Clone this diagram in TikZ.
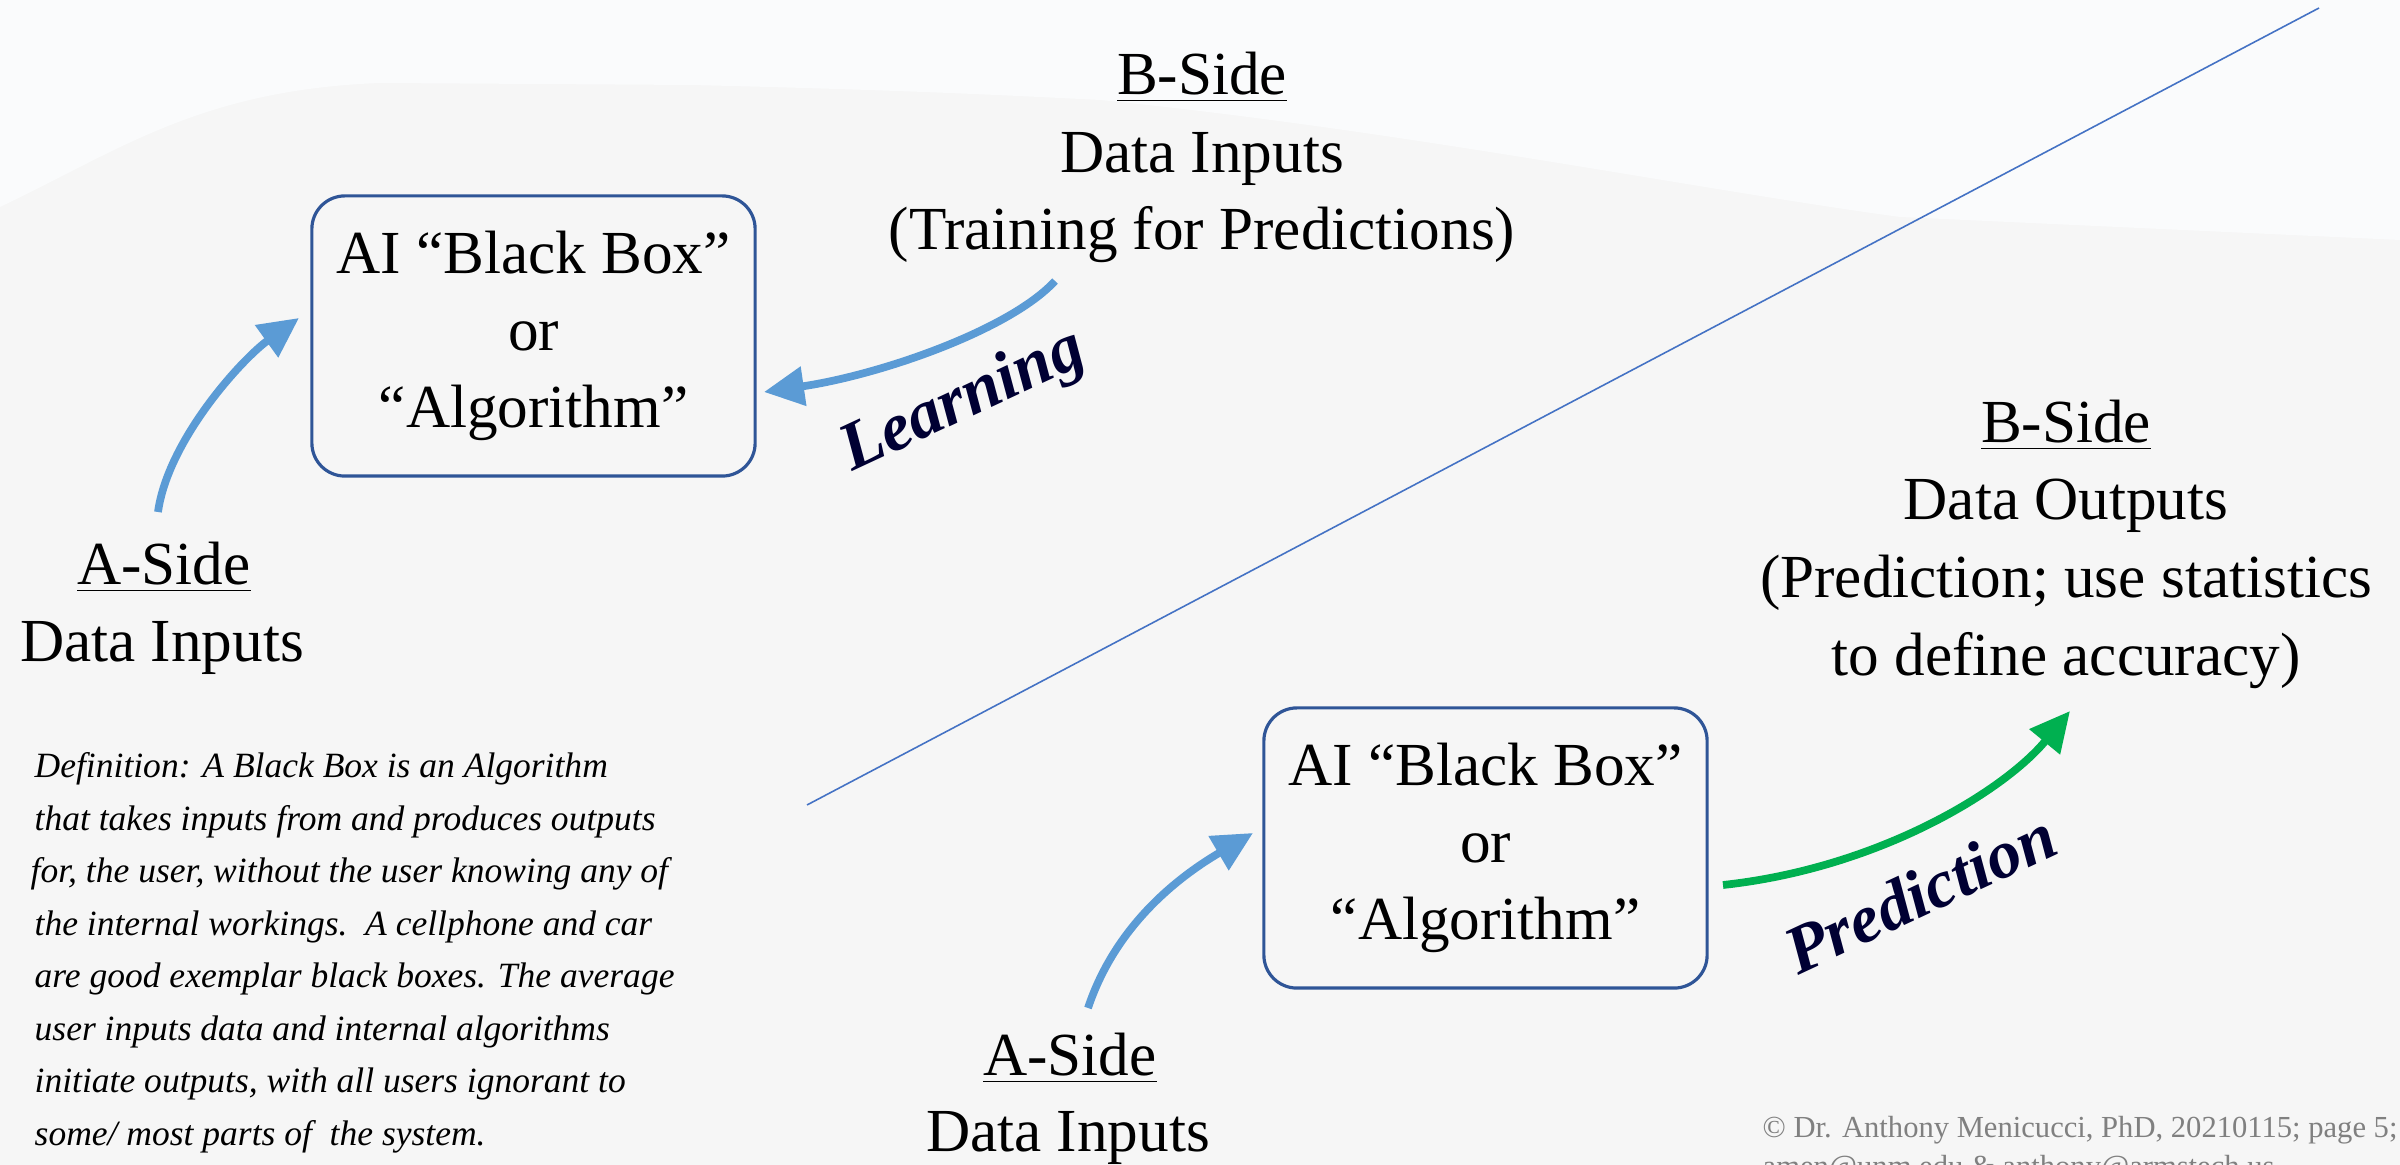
\documentclass[tikz,border=0pt]{standalone}
\usepackage{fontspec}
\setmainfont{Liberation Serif}
\usetikzlibrary{arrows.meta}
\definecolor{bg}{HTML}{F6F6F6}
\definecolor{bgtop}{HTML}{FAFBFC}
\definecolor{boxblue}{HTML}{2F5597}
\definecolor{arrowblue}{HTML}{5B9BD5}
\definecolor{arrowgreen}{HTML}{00B050}
\definecolor{lineblue}{HTML}{4472C4}
\definecolor{labelnavy}{HTML}{000033}
\definecolor{copygray}{HTML}{808080}
\tikzset{
  txt/.style={inner sep=0pt, anchor=base, font=\fontsize{17.4}{21.9}\selectfont},
  deftxt/.style={inner sep=0pt, anchor=base west, font=\fontsize{10.1}{14.9}\selectfont\itshape},
  copytxt/.style={inner sep=0pt, anchor=base west, text=copygray, font=\fontsize{8.7}{10.8}\selectfont},
  blackbox/.style={draw=boxblue, line width=0.9pt, rounded corners=0.33cm,
    minimum width=4.43cm, minimum height=2.8cm, inner sep=0pt, align=center,
    font=\fontsize{17.4}{21.8}\selectfont},
  flowlabel/.style={inner sep=0pt, text=labelnavy, rotate=25,
    font=\fontsize{19.3}{22}\selectfont\bfseries\itshape},
  bluearrow/.style={draw=arrowblue, line width=2.2pt, -{Triangle[length=0.4cm, width=0.38cm]}},
  greenarrow/.style={draw=arrowgreen, line width=2.2pt, -{Triangle[length=0.4cm, width=0.38cm]}},
  divider/.style={draw=lineblue, line width=0.45pt}
}
\begin{document}
\begin{tikzpicture}[x=0.01cm, y=-0.01cm]
\useasboundingbox (0,0) rectangle (2400,1165);
% background
\fill[bg] (0,0) rectangle (2400,1165);
\fill[bgtop] (0,0) -- (0,207) .. controls (120,150) and (200,90) .. (380,83)
  -- (690,85) .. controls (900,90) and (1000,95) .. (1100,100)
  .. controls (1400,130) and (1700,190) .. (1900,217) -- (2400,240) -- (2400,0) -- cycle;

% divider
\coordinate (d1) at (807,805);
\coordinate (d2) at (2319,8);
\draw[divider] (d1) -- (d2);

% top (learning) part
\node[blackbox] (box1) at (533.5,336) {AI “Black Box”\\or\\“Algorithm”};
\node[txt] (bs1) at (1202,95) {\underline{B-Side}};
\node[txt] (bs2) at (1202,173) {Data Inputs};
\node[txt] (bs3) at (1202,250) {(Training for Predictions)};
\node[txt] (as1) at (164,585) {\underline{A-Side}};
\node[txt] (as2) at (162,662) {Data Inputs};

\coordinate (a1s) at (158,512);
\coordinate (a1e) at (299,318);
\draw[bluearrow] (a1s) .. controls +(10,-72) and +(-57,41) .. (a1e);

\coordinate (l1s) at (1055,281);
\coordinate (l1e) at (764,392);
\draw[bluearrow] (l1s) .. controls +(-45,49) and +(116,-17) .. (l1e);
\node[flowlabel] (learn) at (964,402) {Learning};

% bottom (prediction) part
\node[blackbox] (box2) at (1485.5,848) {AI “Black Box”\\or\\“Algorithm”};
\node[txt] (bo1) at (2066,443) {\underline{B-Side}};
\node[txt] (bo2) at (2066,520) {Data Outputs};
\node[txt] (bo3) at (2066,598) {(Prediction; use statistics};
\node[txt] (bo4) at (2066,676) {to define accuracy)};
\node[txt] (ai1) at (1070,1076) {\underline{A-Side}};
\node[txt] (ai2) at (1068,1152) {Data Inputs};

\coordinate (a2s) at (1088,1008);
\coordinate (a2e) at (1253,833);
\draw[bluearrow] (a2s) .. controls +(25,-75) and +(-85,50) .. (a2e);

\coordinate (p1s) at (1723,885);
\coordinate (p1e) at (2070,711);
\draw[greenarrow] (p1s) .. controls +(157,-17) and +(-65,79) .. (p1e);
\node[flowlabel] (pred) at (1920,893) {Prediction};

% definition
\node[deftxt] (def1) at (34,778) {Definition: A Black Box is an Algorithm};
\node[deftxt] (def2) at (34,830.5) {that takes inputs from and produces outputs};
\node[deftxt] (def3) at (30,883) {for, the user, without the user knowing any of};
\node[deftxt] (def4) at (34,935.5) {the internal workings.\ \ A cellphone and car};
\node[deftxt] (def5) at (34,988) {are good exemplar black boxes. The average};
\node[deftxt] (def6) at (34,1040.5) {user inputs data and internal algorithms};
\node[deftxt] (def7) at (34,1093) {initiate outputs, with all users ignorant to};
\node[deftxt] (def8) at (34,1145.5) {some/ most parts of\ \ the system.};

% copyright
\node[copytxt] (cp1) at (1762,1138) {© Dr. Anthony Menicucci, PhD, 20210115; page 5;};
\node[copytxt] (cp2) at (1762,1176) {amen@unm.edu \& anthony@armstech.us};
\end{tikzpicture}
\end{document}
